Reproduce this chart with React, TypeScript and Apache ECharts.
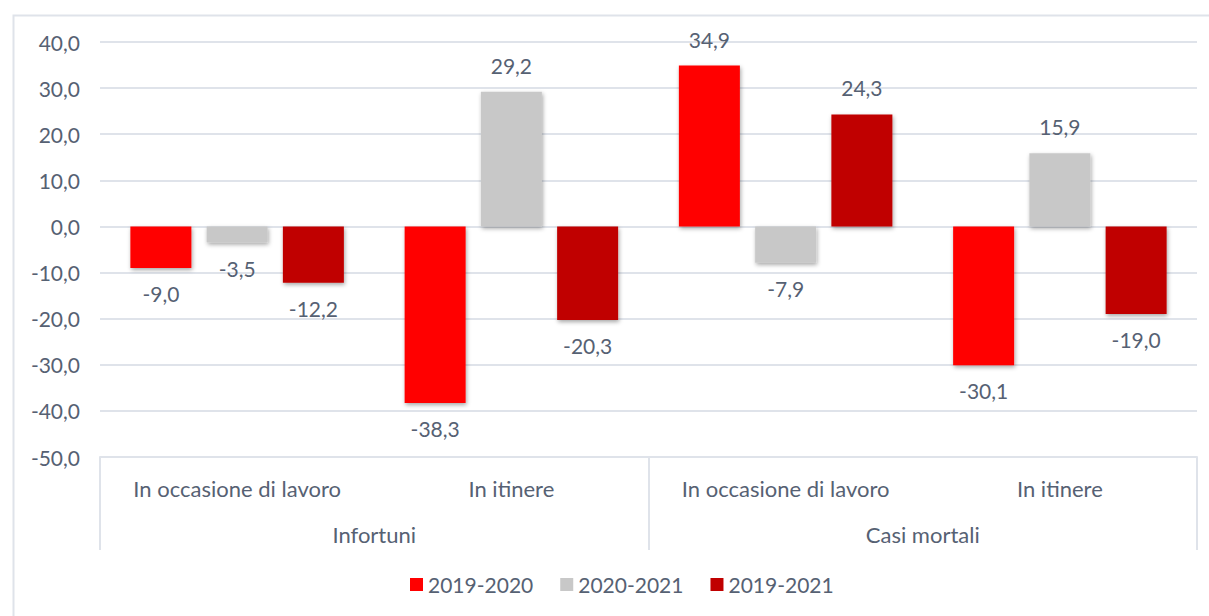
import React, { useEffect, useRef } from "react";
import * as echarts from "echarts";

const subCategories = ["In occasione di lavoro", "In itinere", "In occasione di lavoro", "In itinere"];
const groupCategories = ["Infortuni", "Casi mortali"];
const seriesNames = ["2019-2020", "2020-2021", "2019-2021"];
const values2019_2020 = [-9.0, -38.3, 34.9, -30.1];
const values2020_2021 = [-3.5, 29.2, -7.9, 15.9];
const values2019_2021 = [-12.2, -20.3, 24.3, -19.0];
const colors = ["#FF0000", "#C8C8C8", "#C00000"];

const textColor = "#566173";
const lineColor = "#dfe3ea";
const fontFamily = "Lato, 'Open Sans', sans-serif";
const fsNum = 21;
const fsCat = 22;

const fmt = (v: number) => v.toFixed(1).replace(".", ",");

export default function App() {
  const ref = useRef<HTMLDivElement>(null);
  useEffect(() => {
    document.body.style.margin = "0";
    if (!ref.current) return;
    const chart = echarts.init(ref.current, null, { renderer: "svg" });
    const all = [values2019_2020, values2020_2021, values2019_2021];
    const series = all.map((vals, i) => ({
      name: seriesNames[i],
      type: "bar",
      xAxisIndex: 0,
      barWidth: 61,
      barGap: "25%",
      itemStyle: {
        color: colors[i],
        shadowColor: "rgba(0,0,0,0.35)",
        shadowBlur: 4,
        shadowOffsetX: 1,
        shadowOffsetY: 2,
      },
      data: vals.map((v) => ({
        value: v,
        label: {
          show: true,
          position: v >= 0 ? "top" : "bottom",
          distance: v >= 0 ? 16 : 15,
          formatter: () => fmt(v),
          color: textColor,
          fontSize: fsNum,
          fontFamily,
        },
      })),
    }));
    chart.setOption({
      animation: false,
      backgroundColor: "#ffffff",
      textStyle: { fontFamily },
      grid: { left: 100, right: 12, top: 42, bottom: 159, containLabel: false },
      legend: {
        bottom: 16,
        left: 405,
        itemWidth: 13,
        itemHeight: 13,
        itemGap: 27,
        icon: "rect",
        textStyle: { color: textColor, fontSize: fsNum, fontFamily },
        data: seriesNames,
      },
      xAxis: [
        {
          type: "category",
          data: subCategories,
          position: "bottom",
          axisLine: { show: false },
          axisTick: { show: false },
          axisLabel: { color: textColor, fontSize: fsCat, fontFamily, margin: 20, interval: 0 },
        },
        {
          type: "category",
          data: groupCategories,
          position: "bottom",
          axisLine: { show: true, lineStyle: { color: lineColor, width: 2 } },
          axisTick: { show: true, length: 93, lineStyle: { color: lineColor, width: 2 } },
          axisLabel: { color: textColor, fontSize: fsCat, fontFamily, margin: 66, interval: 0 },
        },
      ],
      yAxis: {
        type: "value",
        min: -50,
        max: 40,
        interval: 10,
        axisLine: { show: false },
        axisTick: { show: false },
        splitLine: { lineStyle: { color: lineColor, width: 2 } },
        axisLabel: { color: textColor, fontSize: fsNum, fontFamily, margin: 20, formatter: (v: number) => fmt(v) },
      },
      graphic: [
        {
          type: "rect",
          left: 11,
          top: 13,
          shape: { width: 1210, height: 620 },
          style: { fill: "none", stroke: lineColor, lineWidth: 2 },
          silent: true,
        },
      ],
      series,
    });
    return () => chart.dispose();
  }, []);
  return <div ref={ref} style={{ position: "absolute", left: 0, top: 0, width: 1209, height: 616 }} />;
}
